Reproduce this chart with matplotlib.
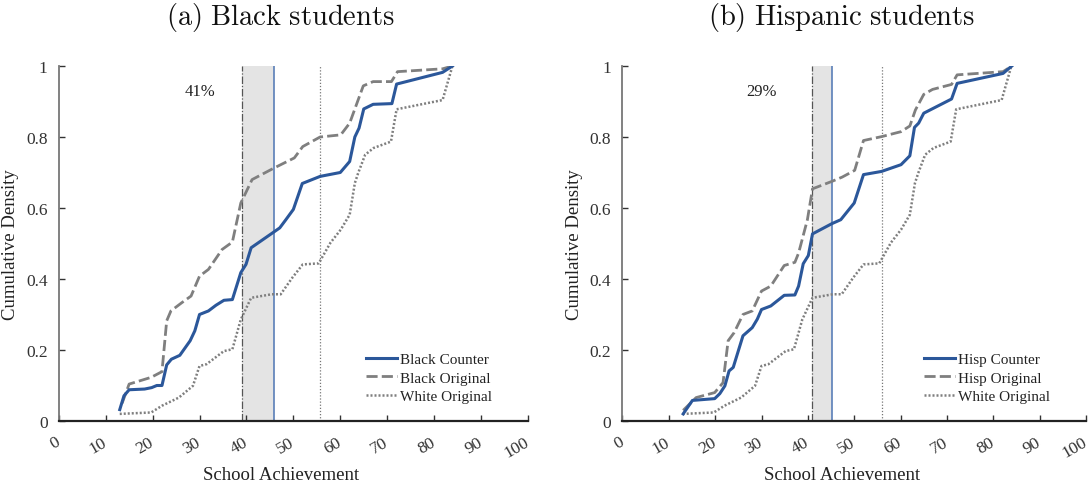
import matplotlib
matplotlib.use('Agg')
import matplotlib.pyplot as plt

plt.rcParams['font.family'] = ['Liberation Serif', 'DejaVu Serif']
plt.rcParams['mathtext.fontset'] = 'cm'

BLUE = '#2b579a'
GRAY = '#7f7f7f'

# ---- data ----
black_cnt_x = [13.0, 13.9, 15.0, 18.3, 19.8, 20.9, 22.0, 23.0, 24.0, 25.8, 28.0, 29.0,
               30.0, 31.9, 33.5, 35.2, 37.0, 38.8, 39.9, 41.0, 45.8, 47.1, 48.4, 50.0,
               51.9, 55.7, 60.0, 62.0, 63.1, 64.0, 65.0, 67.0, 71.0, 72.0, 81.8, 83.9]
black_cnt_y = [0.032, 0.071, 0.088, 0.090, 0.094, 0.100, 0.100, 0.158, 0.174, 0.185, 0.226, 0.254,
               0.300, 0.310, 0.326, 0.340, 0.342, 0.418, 0.441, 0.488, 0.532, 0.544, 0.567, 0.596,
               0.669, 0.689, 0.700, 0.731, 0.800, 0.825, 0.879, 0.892, 0.894, 0.949, 0.982, 1.0]

black_org_x = [13.5, 15.0, 19.7, 22.0, 23.0, 23.9, 26.2, 28.2, 30.0, 31.9, 34.8, 37.0,
               38.8, 41.2, 45.8, 50.2, 52.0, 55.7, 60.1, 62.0, 64.9, 67.0, 70.9, 72.2,
               81.8, 83.9]
black_org_y = [0.050, 0.104, 0.123, 0.139, 0.282, 0.310, 0.333, 0.352, 0.408, 0.427, 0.483, 0.504,
               0.614, 0.680, 0.712, 0.741, 0.773, 0.800, 0.806, 0.839, 0.944, 0.956, 0.956, 0.984,
               0.992, 1.0]

hisp_cnt_x = [13.1, 15.1, 19.9, 21.0, 22.1, 23.0, 23.9, 26.0, 28.0, 29.1, 30.0, 32.0,
              34.9, 37.2, 38.0, 39.0, 40.1, 41.0, 45.2, 47.1, 50.0, 52.0, 55.9, 60.1,
              62.0, 63.0, 63.9, 65.0, 71.0, 72.2, 82.1, 84.0]
hisp_cnt_y = [0.020, 0.058, 0.063, 0.077, 0.099, 0.141, 0.151, 0.240, 0.263, 0.287, 0.314, 0.324,
              0.354, 0.355, 0.380, 0.443, 0.466, 0.527, 0.556, 0.567, 0.614, 0.694, 0.703, 0.722,
              0.747, 0.827, 0.839, 0.867, 0.907, 0.951, 0.979, 1.0]

hisp_org_x = [13.1, 15.9, 19.9, 21.7, 22.8, 24.1, 26.0, 28.0, 30.0, 32.0, 34.9, 37.2,
              38.0, 39.9, 41.0, 45.2, 47.4, 50.1, 52.0, 55.9, 60.1, 62.0, 63.2, 65.0,
              66.9, 71.0, 72.2, 82.1, 84.0]
hisp_org_y = [0.030, 0.066, 0.080, 0.108, 0.226, 0.249, 0.300, 0.310, 0.366, 0.380, 0.438, 0.447,
              0.473, 0.567, 0.654, 0.675, 0.687, 0.706, 0.790, 0.801, 0.815, 0.831, 0.876, 0.920,
              0.934, 0.948, 0.975, 0.984, 1.0]

white_x = [13.0, 19.7, 22.0, 25.6, 28.6, 30.0, 31.5, 35.2, 37.0, 38.8, 41.0, 45.4,
           47.3, 49.8, 52.0, 55.4, 57.9, 60.1, 62.0, 63.1, 63.8, 65.3, 67.1, 70.8,
           72.0, 81.8, 83.9]
white_y = [0.020, 0.024, 0.043, 0.066, 0.099, 0.155, 0.160, 0.197, 0.202, 0.286, 0.347, 0.357,
           0.357, 0.404, 0.441, 0.444, 0.502, 0.539, 0.581, 0.670, 0.698, 0.750, 0.769, 0.787,
           0.878, 0.904, 1.0]

panels = [
    dict(title='(a) Black students', group='Black', cx=black_cnt_x, cy=black_cnt_y,
         ox=black_org_x, oy=black_org_y, v_org=39.1, v_cnt=45.8, v_white=55.7, pct='41%'),
    dict(title='(b) Hispanic students', group='Hisp', cx=hisp_cnt_x, cy=hisp_cnt_y,
         ox=hisp_org_x, oy=hisp_org_y, v_org=41.0, v_cnt=45.2, v_white=55.9, pct='29%'),
]
xticks = list(range(0, 101, 10))
yticks = [0, 0.2, 0.4, 0.6, 0.8, 1]
ytick_labels = ['0', '0.2', '0.4', '0.6', '0.8', '1']

fig = plt.figure(figsize=(10.92, 4.85), dpi=100)
ax_pos = [[0.0538, 0.1299, 0.4297, 0.7320], [0.5700, 0.1299, 0.4245, 0.7320]]
LABEL_X = 0.473   # captions / x-labels sit a bit left of the axes centre

for p, pos in zip(panels, ax_pos):
    ax = fig.add_axes(pos)
    ax.axvspan(p['v_org'], p['v_cnt'], color='#e4e4e4', lw=0, zorder=0)
    ax.axvline(p['v_org'], color='#555555', lw=0.9, ls='-.', dashes=(6, 1.5, 1, 1.5), zorder=1)
    ax.axvline(p['v_cnt'], color='#5a7fb8', lw=1.2, zorder=1)
    ax.axvline(p['v_white'], color='#777777', lw=0.9, ls=(0, (1, 1.5)), zorder=1)

    ax.plot(p['cx'], p['cy'], color=BLUE, lw=2.2, label=p['group'] + ' Counter', zorder=4)
    ax.plot(p['ox'], p['oy'], color=GRAY, lw=2.0, ls=(0, (4, 1.5)),
            label=p['group'] + ' Original', zorder=3)
    ax.plot(white_x, white_y, color=GRAY, lw=1.8, ls=(0, (0.8, 0.8)),
            label='White Original', zorder=2)

    ax.text(30, 0.93, p['pct'], fontsize=12, ha='center', va='center', color='#222222')

    ax.set_xlim(0, 100)
    ax.set_ylim(0, 1)
    ax.set_xticks(xticks)
    ax.set_xticklabels([str(t) for t in xticks], rotation=30, ha='right', va='center',
                       rotation_mode='anchor', fontsize=12.5, color='#333333')
    ax.set_yticks(yticks)
    ax.set_yticklabels(ytick_labels, fontsize=12.5, color='#333333')
    ax.tick_params(direction='in', length=4, width=1, colors='#333333', pad=8)
    ax.tick_params(axis='x', pad=14)
    for s in ('top', 'right'):
        ax.spines[s].set_visible(False)
    ax.spines['bottom'].set_color('#222222')
    ax.spines['bottom'].set_linewidth(1.6)
    ax.spines['left'].set_color('#777777')
    ax.spines['left'].set_linewidth(1.3)

    ax.set_xlabel('School Achievement', fontsize=13.5, color='#222222')
    ax.xaxis.set_label_coords(LABEL_X, -0.128)
    ax.set_ylabel('Cumulative Density', fontsize=13.5, color='#222222', labelpad=5)

    leg = ax.legend(loc='lower right', bbox_to_anchor=(0.952, 0.012), frameon=False,
                    fontsize=11, handlelength=2.0, handletextpad=0.2, labelspacing=0.3)
    for t in leg.get_texts():
        t.set_color('#222222')

    fig.text(pos[0] + LABEL_X * pos[2], 0.964,
             r'$\mathrm{' + p['title'].replace(' ', r'\ ') + '}$',
             fontsize=20.5, ha='center', va='center', color='#111111')

fig.savefig('out.png', dpi=100)
